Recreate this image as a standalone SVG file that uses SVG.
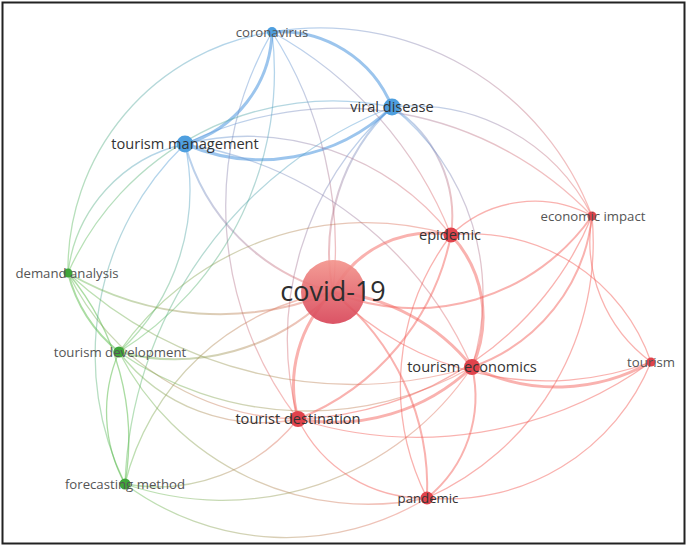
<svg xmlns="http://www.w3.org/2000/svg" width="688" height="549" viewBox="0 0 688 549">
<defs>
<linearGradient id="gCovid" x1="0" y1="0" x2="0" y2="1">
<stop offset="0" stop-color="#f3948c"/>
<stop offset="1" stop-color="#d84558"/>
</linearGradient>
<linearGradient id="BR" gradientUnits="userSpaceOnUse"><stop offset="0" stop-color="#4b96de"/><stop offset="1" stop-color="#f25f58"/></linearGradient>
<linearGradient id="BG" gradientUnits="userSpaceOnUse"><stop offset="0" stop-color="#4b96de"/><stop offset="1" stop-color="#55b946"/></linearGradient>
<linearGradient id="GR" gradientUnits="userSpaceOnUse"><stop offset="0" stop-color="#55b946"/><stop offset="1" stop-color="#f25f58"/></linearGradient>
<linearGradient id="a1" href="#BR" x1="272" y1="32" x2="333" y2="292"/>
<linearGradient id="a2" href="#BR" x1="392" y1="107" x2="333" y2="292"/>
<linearGradient id="a3" href="#BR" x1="185" y1="144" x2="333" y2="292"/>
<linearGradient id="a4" href="#BR" x1="272" y1="32" x2="592" y2="216"/>
<linearGradient id="a5" href="#BR" x1="392" y1="107" x2="592" y2="216"/>
<linearGradient id="a6" href="#BR" x1="185" y1="144" x2="592" y2="216"/>
<linearGradient id="a7" href="#BR" x1="185" y1="144" x2="451" y2="235"/>
<linearGradient id="a8" href="#BR" x1="392" y1="107" x2="451" y2="235"/>
<linearGradient id="a9" href="#BR" x1="392" y1="107" x2="472" y2="367"/>
<linearGradient id="a10" href="#BR" x1="272" y1="32" x2="451" y2="235"/>
<linearGradient id="a11" href="#BR" x1="272" y1="32" x2="298" y2="419"/>
<linearGradient id="a12" href="#BR" x1="392" y1="107" x2="298" y2="419"/>
<linearGradient id="a13" href="#BR" x1="185" y1="144" x2="472" y2="367"/>
<linearGradient id="b1" href="#BG" x1="185" y1="144" x2="125" y2="484"/>
<linearGradient id="b2" href="#BG" x1="185" y1="144" x2="68" y2="273"/>
<linearGradient id="b3" href="#BG" x1="392" y1="107" x2="68" y2="273"/>
<linearGradient id="b4" href="#BG" x1="185" y1="144" x2="119" y2="352"/>
<linearGradient id="b5" href="#BG" x1="272" y1="32" x2="68" y2="273"/>
<linearGradient id="b6" href="#BG" x1="272" y1="32" x2="119" y2="352"/>
<linearGradient id="b7" href="#BG" x1="392" y1="107" x2="125" y2="484"/>
<linearGradient id="c1" href="#GR" x1="68" y1="273" x2="333" y2="292"/>
<linearGradient id="c2" href="#GR" x1="119" y1="352" x2="333" y2="292"/>
<linearGradient id="c3" href="#GR" x1="125" y1="484" x2="333" y2="292"/>
<linearGradient id="c4" href="#GR" x1="119" y1="352" x2="451" y2="235"/>
<linearGradient id="c5" href="#GR" x1="119" y1="352" x2="298" y2="419"/>
<linearGradient id="c6" href="#GR" x1="119" y1="352" x2="472" y2="367"/>
<linearGradient id="c7" href="#GR" x1="119" y1="352" x2="427" y2="498"/>
<linearGradient id="c8" href="#GR" x1="68" y1="273" x2="472" y2="367"/>
<linearGradient id="c9" href="#GR" x1="68" y1="273" x2="298" y2="419"/>
<linearGradient id="c10" href="#GR" x1="125" y1="484" x2="298" y2="419"/>
<linearGradient id="c11" href="#GR" x1="125" y1="484" x2="472" y2="367"/>
<linearGradient id="c12" href="#GR" x1="125" y1="484" x2="427" y2="498"/>
<style>
.l{fill:none}
.rr{stroke:rgba(242,95,88,0.48)}
.bb{stroke:rgba(75,150,222,0.55)}
.gg{stroke:rgba(85,185,70,0.5)}
.mx{stroke-opacity:0.42}
.w1{stroke-width:1.3}
.w2{stroke-width:2}
.w3{stroke-width:3}
.nb{fill:#4e9fdf}
.nr{fill:#e0434c}
.ng{fill:#3ea63a}
text{font-family:"Open Sans","Noto Sans","Liberation Sans",sans-serif;text-anchor:middle}
.t1{font-size:14.6px;fill:#333}
.t2{font-size:13.2px;fill:#555}
</style>
</defs>
<rect x="0" y="0" width="688" height="549" fill="#fff"/>
<rect x="2.5" y="2.5" width="682" height="541" fill="none" stroke="#222" stroke-width="2"/>
<g id="links" class="l">
<path class="bb w3 l" d="M272 32 A120 120 0 0 1 392 107"/>
<path class="bb w3 l" d="M272 32 A120 120 0 0 1 185 144"/>
<path class="bb w3 l" d="M185 144 A190 190 0 0 0 392 107"/>
<path class="mx w1 l" stroke="url(#a1)" d="M272 32 A400 400 0 0 1 333 292"/>
<path class="mx w2 l" stroke="url(#a2)" d="M392 107 A200 200 0 0 0 333 292"/>
<path class="mx w2 l" stroke="url(#a3)" d="M185 144 A209 209 0 0 0 333 292"/>
<path class="mx w1 l" stroke="url(#a4)" d="M272 32 A290 290 0 0 1 592 216"/>
<path class="mx w1 l" stroke="url(#a5)" d="M392 107 A200 200 0 0 1 592 216"/>
<path class="mx w1 l" stroke="url(#a6)" d="M185 144 A350 350 0 0 1 592 216"/>
<path class="mx w1 l" stroke="url(#a7)" d="M185 144 A260 260 0 0 1 451 235"/>
<path class="mx w2 l" stroke="url(#a8)" d="M392 107 A130 130 0 0 1 451 235"/>
<path class="mx w1 l" stroke="url(#a9)" d="M392 107 A240 240 0 0 1 472 367"/>
<path class="mx w1 l" stroke="url(#a10)" d="M272 32 A400 400 0 0 1 451 235"/>
<path class="mx w1 l" stroke="url(#a11)" d="M272 32 A350 350 0 0 0 298 419"/>
<path class="mx w1 l" stroke="url(#a12)" d="M392 107 A310 310 0 0 0 298 419"/>
<path class="mx w1 l" stroke="url(#a13)" d="M185 144 A380 380 0 0 1 472 367"/>
<path class="gg w2 l" d="M68 273 A150 150 0 0 0 119 352"/>
<path class="gg w1 l" d="M68 273 A260 260 0 0 1 125 484"/>
<path class="gg w1 l" d="M119 352 A150 150 0 0 0 125 484"/>
<path class="mx w1 l" stroke="url(#b1)" d="M185 144 A293 293 0 0 0 125 484"/>
<path class="mx w1 l" stroke="url(#b2)" d="M68 273 A150 150 0 0 1 185 144"/>
<path class="mx w1 l" stroke="url(#b3)" d="M68 273 A290 290 0 0 1 392 107"/>
<path class="mx w1 l" stroke="url(#b4)" d="M185 144 A220 220 0 0 1 119 352"/>
<path class="mx w1 l" stroke="url(#b5)" d="M272 32 A240 240 0 0 0 68 273"/>
<path class="mx w1 l" stroke="url(#b6)" d="M272 32 A330 330 0 0 1 119 352"/>
<path class="mx w1 l" stroke="url(#b7)" d="M392 107 A420 420 0 0 0 125 484"/>
<path class="mx w2 l" stroke="url(#c1)" d="M333 292 A300 300 0 0 1 68 273"/>
<path class="mx w2 l" stroke="url(#c2)" d="M333 292 A220 220 0 0 1 119 352"/>
<path class="mx w1 l" stroke="url(#c3)" d="M333 292 A255 255 0 0 0 125 484"/>
<path class="mx w1 l" stroke="url(#c4)" d="M119 352 A300 300 0 0 1 451 235"/>
<path class="mx w1 l" stroke="url(#c5)" d="M119 352 A180 180 0 0 0 298 419"/>
<path class="mx w1 l" stroke="url(#c6)" d="M119 352 A330 330 0 0 0 472 367"/>
<path class="mx w1 l" stroke="url(#c7)" d="M119 352 A280 280 0 0 0 427 498"/>
<path class="mx w1 l" stroke="url(#c8)" d="M68 273 A420 420 0 0 0 472 367"/>
<path class="mx w1 l" stroke="url(#c9)" d="M68 273 A260 260 0 0 0 298 419"/>
<path class="mx w1 l" stroke="url(#c10)" d="M125 484 A180 180 0 0 0 298 419"/>
<path class="mx w1 l" stroke="url(#c11)" d="M125 484 A300 300 0 0 0 472 367"/>
<path class="mx w1 l" stroke="url(#c12)" d="M125 484 A270 270 0 0 0 427 498"/>
<path class="rr w3 l" d="M333 292 A110 110 0 0 1 451 235"/>
<path class="rr w2 l" d="M333 292 A216 216 0 0 0 592 216"/>
<path class="rr w3 l" d="M333 292 A200 200 0 0 1 472 367"/>
<path class="rr w1 l" d="M333 292 A300 300 0 0 0 651 362"/>
<path class="rr w3 l" d="M333 292 A130 130 0 0 0 298 419"/>
<path class="rr w2 l" d="M333 292 A250 250 0 0 1 427 498"/>
<path class="rr w1 l" d="M451 235 A120 120 0 0 1 592 216"/>
<path class="rr w3 l" d="M451 235 A120 120 0 0 1 472 367"/>
<path class="rr w2 l" d="M451 235 A250 250 0 0 1 298 419"/>
<path class="rr w1 l" d="M451 235 A250 250 0 0 0 427 498"/>
<path class="rr w1 l" d="M451 235 A190 190 0 0 1 651 362"/>
<path class="rr w2 l" d="M592 216 A180 180 0 0 1 472 367"/>
<path class="rr w1 l" d="M592 216 A150 150 0 0 0 651 362"/>
<path class="rr w1 l" d="M592 216 A280 280 0 0 1 427 498"/>
<path class="rr w1 l" d="M592 216 A330 330 0 0 1 298 419"/>
<path class="rr w3 l" d="M472 367 A190 190 0 0 0 651 362"/>
<path class="rr w1 l" d="M298 419 A400 400 0 0 0 651 362"/>
<path class="rr w1 l" d="M427 498 A220 220 0 0 0 651 362"/>
<path class="rr w2 l" d="M472 367 A130 130 0 0 1 427 498"/>
<path class="rr w3 l" d="M472 367 A200 200 0 0 1 298 419"/>
<path class="rr w1 l" d="M298 419 A140 140 0 0 0 427 498"/>
</g>
<g id="node-covid-19"><circle cx="333" cy="292" r="32" fill="url(#gCovid)" opacity="0.92"/><text x="333" y="301" style="font-size:27px;fill:#2e2e2e">covid-19</text></g>
<g id="node-coronavirus"><circle class="nb" cx="272" cy="32" r="5"/><text class="t2" x="272" y="36.5">coronavirus</text></g>
<g id="node-viral-disease"><circle class="nb" cx="392" cy="107" r="8.5"/><text class="t1" x="392" y="112">viral disease</text></g>
<g id="node-tourism-management"><circle class="nb" cx="185" cy="144" r="8.5"/><text class="t1" x="185" y="149">tourism management</text></g>
<g id="node-economic-impact"><circle class="nr" cx="592" cy="216" r="4.5"/><text class="t2" x="593" y="220.5">economic impact</text></g>
<g id="node-epidemic"><circle class="nr" cx="451" cy="235" r="7.5"/><text class="t1" x="450" y="240">epidemic</text></g>
<g id="node-demand-analysis"><circle class="ng" cx="68" cy="273" r="4.5"/><text class="t2" x="67" y="277.5">demand analysis</text></g>
<g id="node-tourism-development"><circle class="ng" cx="119" cy="352" r="5.5"/><text class="t2" x="120" y="356.5">tourism development</text></g>
<g id="node-tourism-economics"><circle class="nr" cx="472" cy="367" r="8"/><text class="t1" x="472" y="372">tourism economics</text></g>
<g id="node-tourism"><circle class="nr" cx="651" cy="362" r="4.5"/><text class="t2" x="651" y="366.5">tourism</text></g>
<g id="node-tourist-destination"><circle class="nr" cx="298" cy="419" r="8"/><text class="t1" x="298" y="424">tourist destination</text></g>
<g id="node-forecasting-method"><circle class="ng" cx="125" cy="484" r="5.5"/><text class="t2" x="125" y="488.5">forecasting method</text></g>
<g id="node-pandemic"><circle class="nr" cx="427" cy="498" r="6.5"/><text class="t2" x="428" y="502.5" style="fill:#333">pandemic</text></g>
</svg>
